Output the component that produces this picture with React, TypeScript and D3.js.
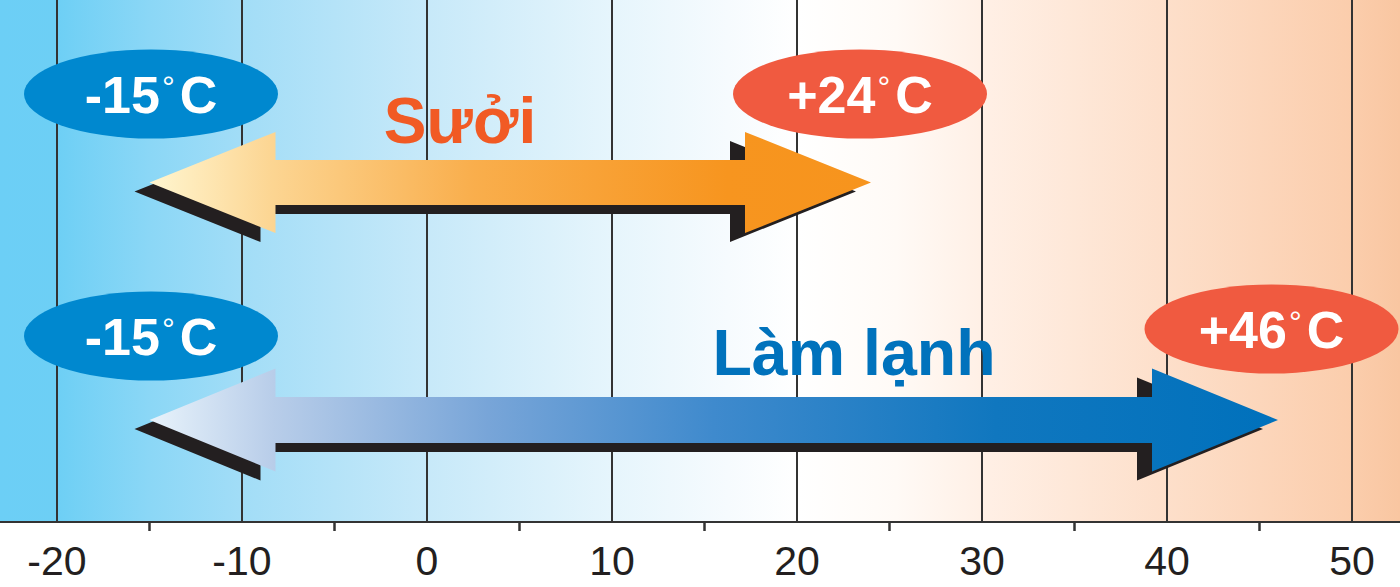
import React, { useEffect } from "react";
import * as d3 from "d3";

// ---- data ----
const majorTicks = [-20, -10, 0, 10, 20, 30, 40, 50];
const minorTicks = [-15, -5, 5, 15, 25, 35, 45];
const modeNames = ["Sưởi", "Làm lạnh"];
const minTemps = [-15, -15];
const maxTemps = [24, 46];

const W = 1400;
const H = 587;
const AXIS_Y = 522;

const numText = (v: number) => (v > 0 ? "+" : "") + v;

export default function App() {
  useEffect(() => {
    document.body.style.margin = "0";
  }, []);

  const x = d3.scaleLinear().domain([-20, 50]).range([57, 1352]);

  // layout (style) per row
  const rows = [
    {
      cy: 182.5, hh: 50.5, sh: 22.5, leftLabelY: 94, rightLabelY: 94, rightDx: -11,
      titleX: 460, titleY: 143, titleColor: "#f15a24", titleSize: 64, grad: "gHeat",
    },
    {
      cy: 420, hh: 51.5, sh: 23, leftLabelY: 336, rightLabelY: 329, rightDx: -6.5,
      titleX: 854, titleY: 375, titleColor: "#0072bc", titleSize: 64.5, grad: "gCool",
    },
  ];
  const HEAD = 126;
  const SHADOW_DX = -15;
  const SHADOW_DY = 9;

  const arrowPath = (x1: number, x2: number, cy: number, hh: number, sh: number) => {
    const pts: [number, number][] = [
      [x1, cy],
      [x1 + HEAD, cy - hh],
      [x1 + HEAD, cy - sh],
      [x2 - HEAD, cy - sh],
      [x2 - HEAD, cy - hh],
      [x2, cy],
      [x2 - HEAD, cy + hh],
      [x2 - HEAD, cy + sh],
      [x1 + HEAD, cy + sh],
      [x1 + HEAD, cy + hh],
    ];
    return d3.line()(pts) + "Z";
  };

  const font = "'Liberation Sans', Arial, Helvetica, sans-serif";

  const TempLabel = ({ cx, cy, v, fill }: { cx: number; cy: number; v: number; fill: string }) => (
    <g>
      <ellipse cx={cx} cy={cy} rx={127} ry={44.5} fill={fill} />
      <text x={cx} y={cy + 19} textAnchor="middle" fontFamily={font} fontWeight="bold" fontSize={52} fill="#ffffff">
        {numText(v)}
        <tspan fontSize={32} fontWeight="normal" dx={2} dy={-15}>°</tspan>
        <tspan dx={5} dy={15}>C</tspan>
      </text>
    </g>
  );

  return (
    <svg width={W} height={H} style={{ display: "block" }} xmlns="http://www.w3.org/2000/svg">
      <defs>
        <linearGradient id="bg" x1="0" x2={W} y1="0" y2="0" gradientUnits="userSpaceOnUse">
          <stop offset="0" stopColor="#6ccff6" />
          <stop offset="0.04" stopColor="#6dcff5" />
          <stop offset="0.107" stopColor="#8bd7f6" />
          <stop offset="0.173" stopColor="#a2ddf7" />
          <stop offset="0.305" stopColor="#c7e9f9" />
          <stop offset="0.437" stopColor="#e6f5fc" />
          <stop offset="0.52" stopColor="#f6fbfe" />
          <stop offset="0.57" stopColor="#ffffff" />
          <stop offset="0.64" stopColor="#fffaf6" />
          <stop offset="0.70" stopColor="#fff0e6" />
          <stop offset="0.834" stopColor="#fddfca" />
          <stop offset="0.966" stopColor="#fbcdac" />
          <stop offset="1" stopColor="#f9c6a1" />
        </linearGradient>
        <linearGradient id="gHeat" x1={x(minTemps[0])} x2={x(maxTemps[0])} y1="0" y2="0" gradientUnits="userSpaceOnUse">
          <stop offset="0" stopColor="#fff6d0" />
          <stop offset="0.17" stopColor="#fcd592" />
          <stop offset="0.45" stopColor="#f9ae4c" />
          <stop offset="0.8" stopColor="#f7951f" />
          <stop offset="1" stopColor="#f7941d" />
        </linearGradient>
        <linearGradient id="gCool" x1={x(minTemps[1])} x2={x(maxTemps[1])} y1="0" y2="0" gradientUnits="userSpaceOnUse">
          <stop offset="0" stopColor="#e8f3fb" />
          <stop offset="0.11" stopColor="#b8cde9" />
          <stop offset="0.3" stopColor="#78a5d8" />
          <stop offset="0.5" stopColor="#3f8acd" />
          <stop offset="0.75" stopColor="#1077bf" />
          <stop offset="1" stopColor="#0071bc" />
        </linearGradient>
      </defs>

      <rect x={0} y={0} width={W} height={H} fill="#ffffff" />
      <rect x={0} y={0} width={W} height={AXIS_Y} fill="url(#bg)" />

      {/* vertical grid lines */}
      {majorTicks.map((t) => (
        <line key={"g" + t} x1={x(t)} x2={x(t)} y1={0} y2={AXIS_Y} stroke="#333333" strokeWidth={2} />
      ))}

      {/* axis line */}
      <line x1={0} x2={W} y1={AXIS_Y} y2={AXIS_Y} stroke="#333333" strokeWidth={2.2} />
      {minorTicks.map((t) => (
        <line key={"m" + t} x1={x(t)} x2={x(t)} y1={AXIS_Y} y2={AXIS_Y + 9} stroke="#333333" strokeWidth={2.5} />
      ))}
      {majorTicks.map((t) => (
        <text key={"l" + t} x={x(t)} y={575} textAnchor="middle" fontFamily={font} fontSize={41} fill="#231f20">
          {String(t)}
        </text>
      ))}

      {/* arrows */}
      {rows.map((r, i) => {
        const x1 = x(minTemps[i]);
        const x2 = x(maxTemps[i]);
        const d = arrowPath(x1, x2, r.cy, r.hh, r.sh);
        return (
          <g key={"a" + i}>
            <path d={d} fill="#231f20" transform={`translate(${SHADOW_DX},${SHADOW_DY})`} />
            <path d={d} fill={`url(#${r.grad})`} />
          </g>
        );
      })}

      {/* labels */}
      {rows.map((r, i) => (
        <g key={"e" + i}>
          <TempLabel cx={x(minTemps[i]) + 1.5} cy={r.leftLabelY} v={minTemps[i]} fill="#0088cf" />
          <TempLabel cx={x(maxTemps[i]) + r.rightDx} cy={r.rightLabelY} v={maxTemps[i]} fill="#f05a40" />
          <text x={r.titleX} y={r.titleY} textAnchor="middle" fontFamily={font} fontWeight="bold" fontSize={r.titleSize} fill={r.titleColor}>
            {modeNames[i]}
          </text>
        </g>
      ))}
    </svg>
  );
}
